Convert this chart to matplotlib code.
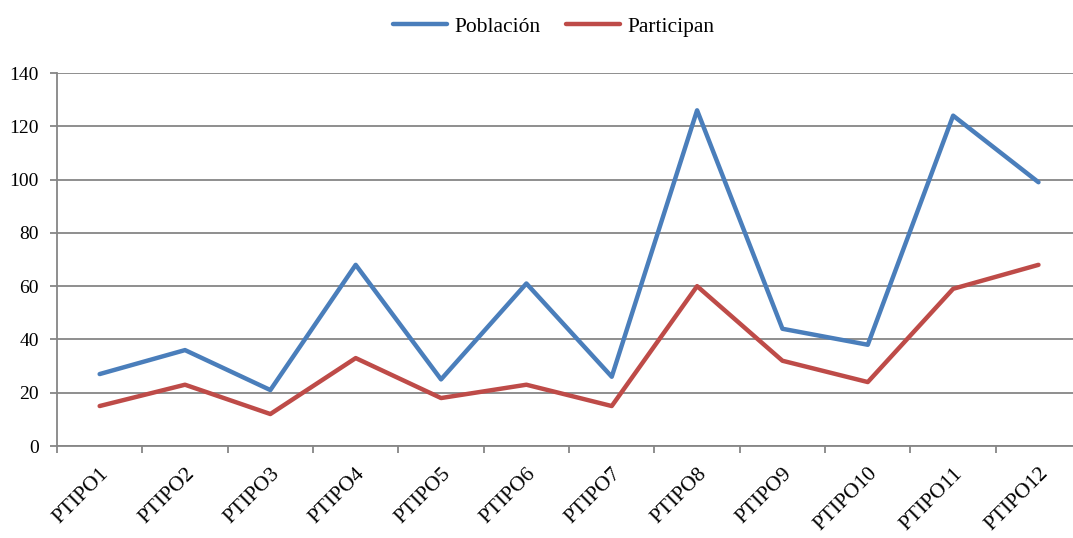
import matplotlib.pyplot as plt
import numpy as np

# ----------------------------------------------------
# Data
# ----------------------------------------------------
categories = ['PTIPO1', 'PTIPO2', 'PTIPO3', 'PTIPO4', 'PTIPO5', 'PTIPO6',
              'PTIPO7', 'PTIPO8', 'PTIPO9', 'PTIPO10', 'PTIPO11', 'PTIPO12']
poblacion = [27, 36, 21, 68, 25, 61, 26, 126, 44, 38, 124, 99]
participan = [15, 23, 12, 33, 18, 23, 15, 60, 32, 24, 59, 68]
y_ticks = [0, 20, 40, 60, 80, 100, 120, 140]

plt.rcParams['font.family'] = ['Liberation Serif', 'DejaVu Serif']
grey = '#868686'

fig = plt.figure(figsize=(10.73, 5.38), dpi=100)
ax = fig.add_axes([0.0531, 0.171, 0.9545, 0.6933])

x = np.arange(len(categories))
ax.plot(x, poblacion, color='#4a7ebb', linewidth=3.2, label='Población',
        solid_capstyle='round', solid_joinstyle='round', clip_on=False)
ax.plot(x, participan, color='#be4b48', linewidth=3.2, label='Participan',
        solid_capstyle='round', solid_joinstyle='round', clip_on=False)

ax.set_xlim(-0.5, len(categories) - 0.5)
ax.set_ylim(0, 140)
ax.set_yticks(y_ticks)
ax.yaxis.grid(True, color=grey, linewidth=1.3)
ax.set_axisbelow(True)

# category labels at centers, tick marks at boundaries
ax.set_xticks(x)
ax.set_xticklabels(categories, rotation=45, ha='right', va='top',
                   rotation_mode='anchor')
ax.set_xticks(np.arange(-0.5, len(categories)), minor=True)
ax.tick_params(axis='x', which='major', length=0, pad=13, labelsize=15.5)
ax.tick_params(axis='x', which='minor', length=5, width=1.3, color=grey)
ax.tick_params(axis='y', length=5, width=1.3, color=grey, labelsize=14, pad=8)

for s in ['top', 'right']:
    ax.spines[s].set_visible(False)
for s in ['left', 'bottom']:
    ax.spines[s].set_color(grey)
    ax.spines[s].set_linewidth(1.3)

fig.legend(loc='upper center', bbox_to_anchor=(0.516, 1.005), ncol=2,
           frameon=False, fontsize=15.5, handlelength=2.5, columnspacing=1.2,
           handletextpad=0.35)

fig.savefig('out.png', dpi=100)
